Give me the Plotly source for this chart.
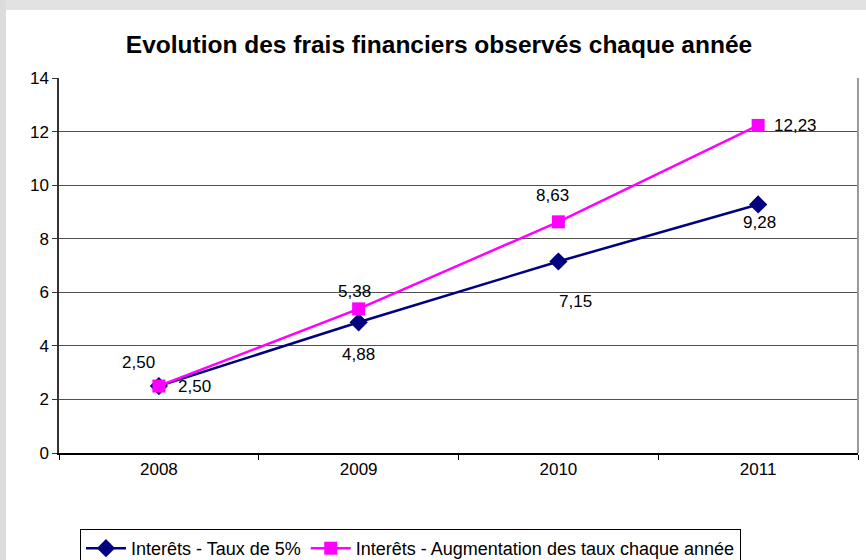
import plotly.graph_objects as go

years = ["2008", "2009", "2010", "2011"]
taux_5 = [2.50, 4.88, 7.15, 9.28]
taux_aug = [2.50, 5.38, 8.63, 12.23]
name_5 = "Interêts - Taux de 5%"
name_aug = "Interêts - Augmentation des taux chaque année"
title = "Evolution des frais financiers observés chaque année"
y_ticks = [0, 2, 4, 6, 8, 10, 12, 14]

# label offsets (style, in px)
shift_5 = [(36, 0), (0, -32), (17, -40), (1, -18)]
shift_aug = [(-20, 24), (-4, 17), (-6, 26), (37, 0)]

NAVY = "#000080"
MAG = "#FF00FF"
FONT = "Liberation Sans, Arial, sans-serif"
FS = 17

fig = go.Figure()
fig.add_trace(go.Scatter(
    x=years, y=taux_5, name=name_5, mode="lines+markers",
    line=dict(color=NAVY, width=2.5),
    marker=dict(symbol="diamond", size=14, color=NAVY),
))
fig.add_trace(go.Scatter(
    x=years, y=taux_aug, name=name_aug, mode="lines+markers",
    line=dict(color=MAG, width=2.5),
    marker=dict(symbol="square", size=13, color=MAG),
))

def fmt(v):
    return f"{v:.2f}".replace(".", ",")

annotations = []
for vals, shifts in ((taux_5, shift_5), (taux_aug, shift_aug)):
    for i, (yv, (dx, dy)) in enumerate(zip(vals, shifts)):
        annotations.append(dict(
            x=i, y=yv, text=fmt(yv), showarrow=False,
            xshift=dx, yshift=dy,
            font=dict(family=FONT, size=FS, color="#000000"),
        ))

# grey frame strips (paper coords extending outside plot area)
L, R, T, B = 59, 858, 78, 453
W, H = R - L, B - T
def px(x):
    return (x - L) / W
def py(y):
    return (B - y) / H

shapes = [
    dict(type="rect", xref="paper", yref="paper", x0=px(0), x1=px(866), y0=py(10), y1=py(0),
         fillcolor="#e2e2e2", line=dict(width=0), layer="below"),
    dict(type="rect", xref="paper", yref="paper", x0=px(0), x1=px(6), y0=py(560), y1=py(0),
         fillcolor="#dcdcdc", line=dict(width=0), layer="below"),
    dict(type="line", xref="paper", yref="paper", x0=1, x1=1, y0=0, y1=1,
         line=dict(color="#999999", width=2)),
]

fig.update_layout(
    width=866, height=560,
    margin=dict(l=L, r=866 - R, t=T, b=560 - B, autoexpand=False),
    paper_bgcolor="white", plot_bgcolor="white",
    font=dict(family=FONT, size=FS, color="#000000"),
    title=dict(text=f"<b>{title}</b>", x=439 / 866, xanchor="center", xref="container",
               y=1 - 44 / 560, yanchor="middle", yref="container",
               font=dict(family=FONT, size=24.5, color="#000000")),
    showlegend=True,
    legend=dict(orientation="h", x=px(80), xanchor="left", y=py(529), yanchor="top",
                bordercolor="#000000", borderwidth=1, bgcolor="white",
                font=dict(family=FONT, size=18), itemwidth=40, tracegroupgap=0),
    annotations=annotations,
    shapes=shapes,
    hovermode=False,
)
fig.update_xaxes(
    type="category", range=[-0.5, 3.5], showgrid=False, showline=True,
    linecolor="#000000", linewidth=1.5,
    ticks="outside", tickson="boundaries", ticklen=5, tickcolor="#000000",
    tickfont=dict(family=FONT, size=FS), zeroline=False, tickangle=0,
)
fig.update_yaxes(
    range=[0, 14], tickvals=y_ticks, showgrid=True, gridcolor="#505050", gridwidth=1,
    showline=True, linecolor="#333333", linewidth=1.5, ticks="outside", ticklen=5,
    tickcolor="#333333", tickfont=dict(family=FONT, size=FS), zeroline=False,
)

fig.write_html("out.html", config={"displayModeBar": False},
               post_script="document.body.style.margin='0';document.body.style.overflow='hidden';")
